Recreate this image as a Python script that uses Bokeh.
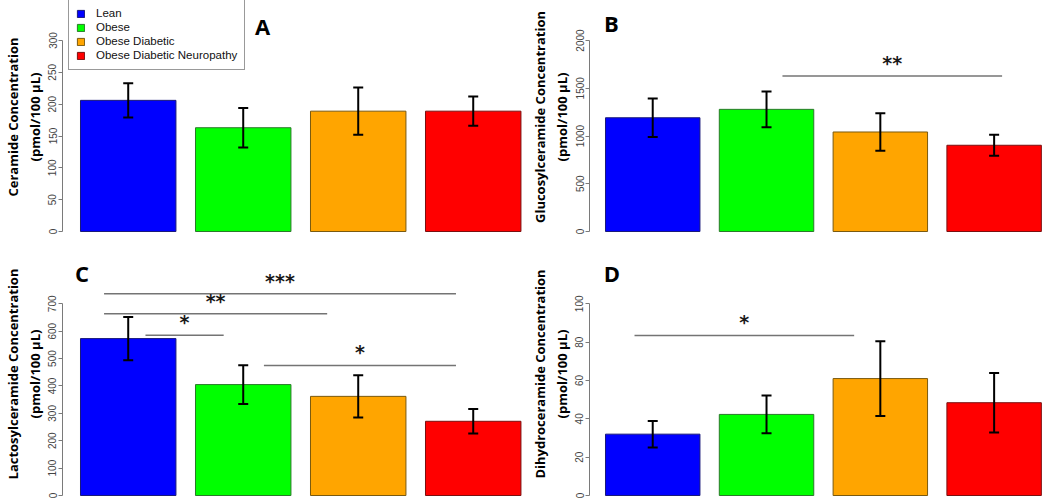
import math
from bokeh.plotting import figure
from bokeh.models import ColumnDataSource, Whisker, TeeHead, FixedTicker, Range1d
from bokeh.layouts import column, row
from bokeh.embed import file_html
from bokeh.resources import INLINE
from bokeh.core.properties import value

# ---------------- data ----------------
groups = ["Lean", "Obese", "Obese Diabetic", "Obese Diabetic Neuropathy"]
bar_colors = ["#0000FF", "#00FF00", "#FFA500", "#FF0000"]
edge_colors = ["#1a1a7a", "#2a7a2a", "#7a5a10", "#7a1010"]
positions = [1, 2, 3, 4]

ceramide_mean = [206, 163, 189, 189]
ceramide_sem = [27, 31, 37, 23]
ceramide_ticks = [0, 50, 100, 150, 200, 250, 300]

glucosyl_mean = [1191, 1279, 1042, 903]
glucosyl_sem = [202, 188, 196, 110]
glucosyl_ticks = [0, 500, 1000, 1500, 2000]

lactosyl_mean = [573, 405, 362, 271]
lactosyl_sem = [79, 71, 77, 45]
lactosyl_ticks = [0, 100, 200, 300, 400, 500, 600, 700]

dihydro_mean = [32.0, 42.3, 61.0, 48.4]
dihydro_sem = [6.9, 9.8, 19.5, 15.5]
dihydro_ticks = [0, 20, 40, 60, 80, 100]

sig_A = dict(x0=[], x1=[], y=[], text=[])
sig_B = dict(x0=[2.14], x1=[4.07], y=[1627], text=["**"])
sig_C = dict(x0=[0.79, 0.79, 1.15, 2.18], x1=[3.85, 2.73, 1.83, 3.85],
             y=[737, 664, 585, 475], text=["***", "**", "*", "*"])
sig_D = dict(x0=[0.84], x1=[2.77], y=[83.5], text=["*"])

# ---------------- layout geometry (screen pixels) ----------------
COLS = {
    0: dict(width=527, bl=60, br=2, frame_left=60, c1=126.0, dx=115.5),
    1: dict(width=521, bl=60, br=2, frame_left=587, c1=650.5, dx=114.3),
}
ROWS = {
    0: dict(height=250, bt=0, bb=17, frame_top=0, frame_bottom=233, zero=231, axis_px=191.0),
    1: dict(height=250, bt=0, bb=3, frame_top=250, frame_bottom=497, zero=495, axis_px=191.7),
}


def panel(mean, sem, ticks, ylabel, letter, letter_pos, sig, ci, ri, legend=False):
    C = COLS[ci]
    R = ROWS[ri]
    k = R["axis_px"] / ticks[-1]
    fw = C["width"] - C["bl"] - C["br"]
    x0 = 1 - (C["c1"] - C["frame_left"]) / C["dx"]
    x1 = x0 + fw / C["dx"]
    y0 = -(R["frame_bottom"] - R["zero"]) / k
    y1 = (R["zero"] - R["frame_top"]) / k

    p = figure(width=C["width"], height=R["height"], output_backend="svg",
               toolbar_location=None, x_axis_location=None,
               x_range=Range1d(x0, x1), y_range=Range1d(y0, y1),
               min_border_left=C["bl"], min_border_right=C["br"],
               min_border_top=R["bt"], min_border_bottom=R["bb"])
    p.outline_line_color = None
    p.xgrid.visible = False
    p.ygrid.visible = False

    src = ColumnDataSource(dict(
        x=positions, top=mean, group=groups, fill=bar_colors, edge=edge_colors,
        upper=[m + s for m, s in zip(mean, sem)],
        lower=[m - s for m, s in zip(mean, sem)],
    ))
    kw = dict(x="x", top="top", bottom=0, width=0.83, source=src,
              fill_color="fill", line_color="edge", line_width=1)
    if legend:
        p.vbar(legend_field="group", **kw)
    else:
        p.vbar(**kw)

    wh = Whisker(base="x", upper="upper", lower="lower", source=src,
                 dimension="height", line_width=2, line_color="black",
                 level="overlay",
                 upper_head=TeeHead(size=10, line_width=2, line_color="black"),
                 lower_head=TeeHead(size=10, line_width=2, line_color="black"))
    p.add_layout(wh)

    if sig["y"]:
        p.segment(x0=sig["x0"], y0=sig["y"], x1=sig["x1"], y1=sig["y"],
                  line_color="#747474", line_width=1.5)
        mids = [(a + b) / 2 for a, b in zip(sig["x0"], sig["x1"])]
        ty = [v + 13.0 / k for v in sig["y"]]
        p.text(x=mids, y=ty, text=sig["text"], text_align="center",
               text_baseline="middle",
               text_font=value("DejaVu Sans"), text_font_size="19px",
               text_font_style="bold", text_color="#1a1a1a")

    lx = 1 + (letter_pos[0] - C["c1"]) / C["dx"]
    ly = (R["zero"] - letter_pos[1]) / k
    p.text(x=[lx], y=[ly], text=[letter], text_align="center",
           text_baseline="middle", text_font=value("Open Sans"),
           text_font_style="bold", text_font_size="22px", text_color="black")

    ax = p.yaxis[0]
    ax.ticker = FixedTicker(ticks=ticks)
    ax.bounds = (0, ticks[-1])
    ax.minor_tick_line_color = None
    ax.major_tick_out = 4
    ax.major_tick_in = 0
    ax.axis_line_color = "#7a7a7a"
    ax.major_tick_line_color = "#7a7a7a"
    ax.major_label_orientation = "parallel"
    ax.major_label_text_font = "Liberation Sans"
    ax.major_label_text_font_size = "10px"
    ax.major_label_text_color = "#444444"
    ax.major_label_standoff = 2
    ax.axis_label = ylabel
    ax.axis_label_text_font = "Open Sans"
    ax.axis_label_text_font_style = "bold"
    ax.axis_label_text_font_size = "13px"
    ax.axis_label_text_color = "black"
    ax.axis_label_standoff = 2

    if legend:
        lg = p.legend[0]
        lg.location = (6, R["frame_bottom"] - 70)
        lg.margin = 0
        lg.padding = 7
        lg.spacing = 0
        lg.glyph_width = 9
        lg.glyph_height = 9
        lg.label_height = 14
        lg.label_standoff = 11
        lg.label_text_font = "Liberation Sans"
        lg.label_text_font_size = "11.5px"
        lg.label_text_color = "#111111"
        lg.border_line_color = "#333333"
        lg.border_line_width = 1
        lg.background_fill_alpha = 1
    return p


pA = panel(ceramide_mean, ceramide_sem, ceramide_ticks,
           "Ceramide Concentration\n(pmol/100 µL)", "A", (261, 25), sig_A, 0, 0, legend=True)
pB = panel(glucosyl_mean, glucosyl_sem, glucosyl_ticks,
           "Glucosylceramide Concentration\n(pmol/100 µL)", "B", (609, 22.5), sig_B, 1, 0)
pC = panel(lactosyl_mean, lactosyl_sem, lactosyl_ticks,
           "Lactosylceramide Concentration\n(pmol/100 µL)", "C", (79.5, 272.5), sig_C, 0, 1)
pD = panel(dihydro_mean, dihydro_sem, dihydro_ticks,
           "Dihydroceramide Concentration\n(pmol/100 µL)", "D", (609.5, 272.5), sig_D, 1, 1)

layout = column(row(pA, pB, spacing=0), row(pC, pD, spacing=0), spacing=0)
open("out.html", "w").write(file_html(layout, INLINE))
